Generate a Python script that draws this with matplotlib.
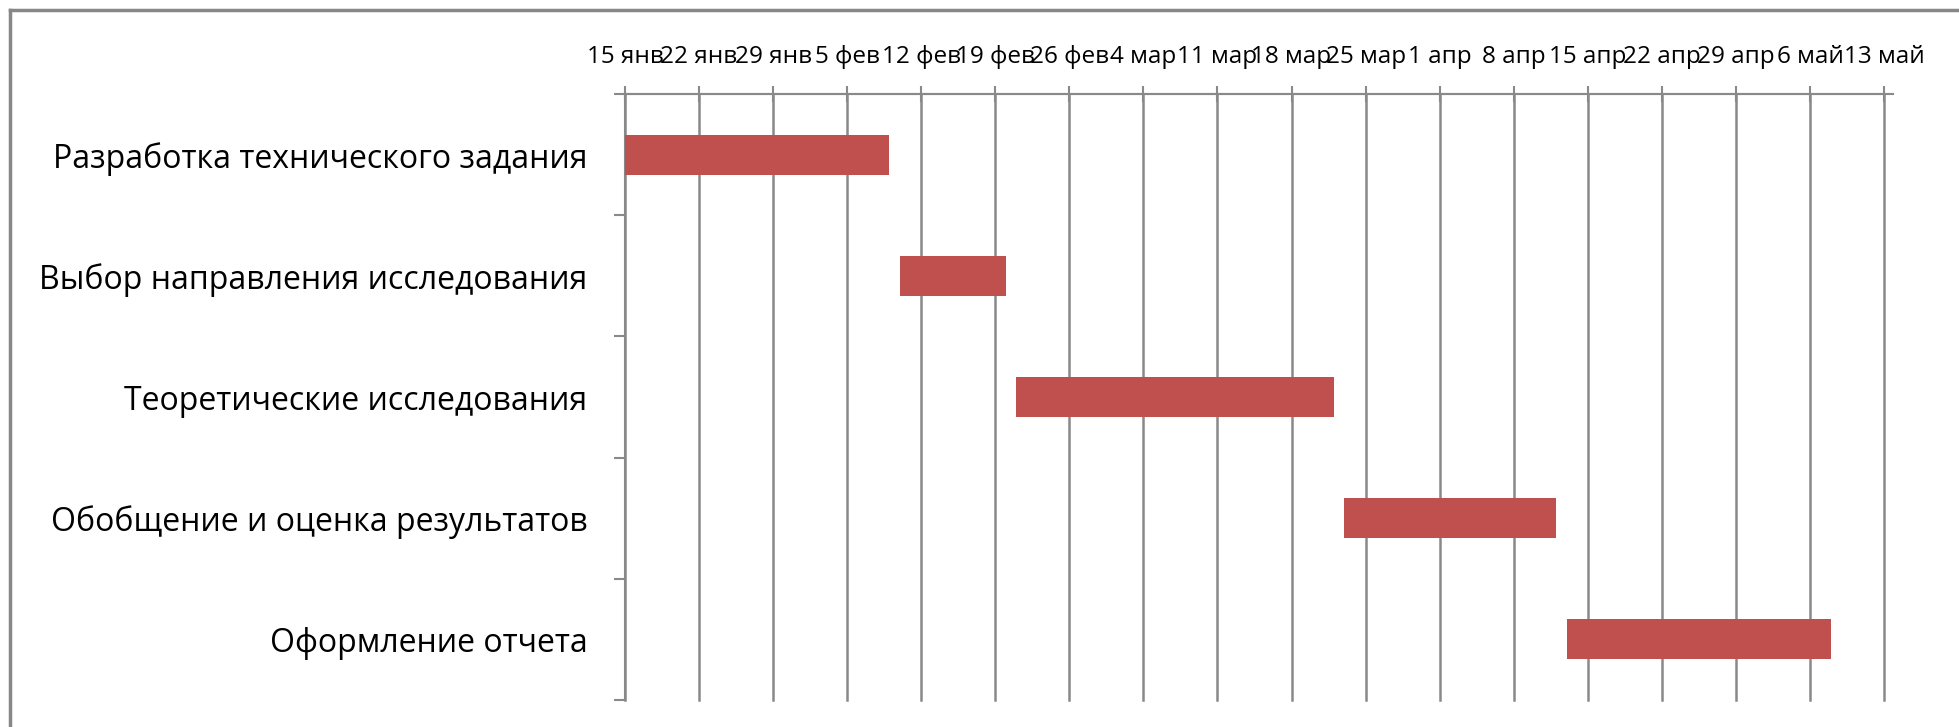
import datetime as dt

import matplotlib
import matplotlib.pyplot as plt
import matplotlib.dates as mdates
from matplotlib.lines import Line2D

matplotlib.use('Agg')

plt.rcParams['font.family'] = ['Open Sans', 'DejaVu Sans']

tasks = [
    "Разработка технического задания",
    "Выбор направления исследования",
    "Теоретические исследования",
    "Обобщение и оценка результатов",
    "Оформление отчета",
]
start_dates = [
    dt.date(2012, 1, 15),
    dt.date(2012, 2, 10),
    dt.date(2012, 2, 21),
    dt.date(2012, 3, 23),
    dt.date(2012, 4, 13),
]
durations = [25, 10, 30, 20, 25]  # days

axis_start = dt.date(2012, 1, 15)
axis_end = dt.date(2012, 5, 13)
month_names = ["янв", "фев", "мар", "апр", "май", "июн",
               "июл", "авг", "сен", "окт", "ноя", "дек"]

BAR_COLOR = "#C0504D"
LINE_COLOR = "#898989"


def week_ticks(first, last):
    ticks = []
    d = first
    while d <= last:
        ticks.append(d)
        d += dt.timedelta(days=7)
    return ticks


def main():
    fig = plt.figure(figsize=(19.59, 7.27), dpi=100)
    ax = fig.add_axes([625 / 1959, 1 - 700 / 727, (1884 - 625) / 1959, (700 - 94) / 727])

    y = list(range(len(tasks)))
    lefts = mdates.date2num(start_dates)
    ax.barh(y, durations, left=lefts, height=0.33, color=BAR_COLOR, zorder=3)

    # x axis: weekly ticks on top
    ticks = week_ticks(axis_start, axis_end)
    ax.set_xlim(mdates.date2num(axis_start), mdates.date2num(axis_end))
    ax.set_xticks(mdates.date2num(ticks))
    ax.set_xticklabels([f"{d.day} {month_names[d.month - 1]}" for d in ticks])
    ax.xaxis.tick_top()
    ax.tick_params(axis='x', direction='inout', length=12, width=1.5,
                   color=LINE_COLOR, labelsize=17.5, pad=12)
    ax.grid(axis='x', color=LINE_COLOR, linewidth=1.8, zorder=0)
    for gl in ax.get_xgridlines():
        gl.set_clip_on(False)

    # y axis: categories top to bottom, ticks between them
    ax.set_ylim(len(tasks) - 0.5, -0.5)
    ax.set_yticks(y)
    ax.set_yticklabels(tasks)
    ax.set_yticks([i - 0.5 for i in range(len(tasks) + 1)], minor=True)
    ax.tick_params(axis='y', which='major', length=0, labelsize=23, pad=27)
    ax.tick_params(axis='y', which='minor', direction='out', length=8,
                   width=1.5, color=LINE_COLOR)

    for side in ('right', 'bottom'):
        ax.spines[side].set_visible(False)
    for side in ('left', 'top'):
        ax.spines[side].set_color(LINE_COLOR)
        ax.spines[side].set_linewidth(1.5)
    ax.axhline(-0.5, xmin=0, xmax=1.007, color=LINE_COLOR, linewidth=1.5, clip_on=False)

    # chart frame (top and left edges)
    fig.add_artist(Line2D([10 / 1959, 1], [1 - 9.5 / 727] * 2,
                          transform=fig.transFigure, color="#878787", linewidth=2.5))
    fig.add_artist(Line2D([10 / 1959] * 2, [0, 1 - 9.5 / 727],
                          transform=fig.transFigure, color="#878787", linewidth=2.5))

    fig.savefig("out.png", dpi=100, facecolor="white")


if __name__ == "__main__":
    main()
